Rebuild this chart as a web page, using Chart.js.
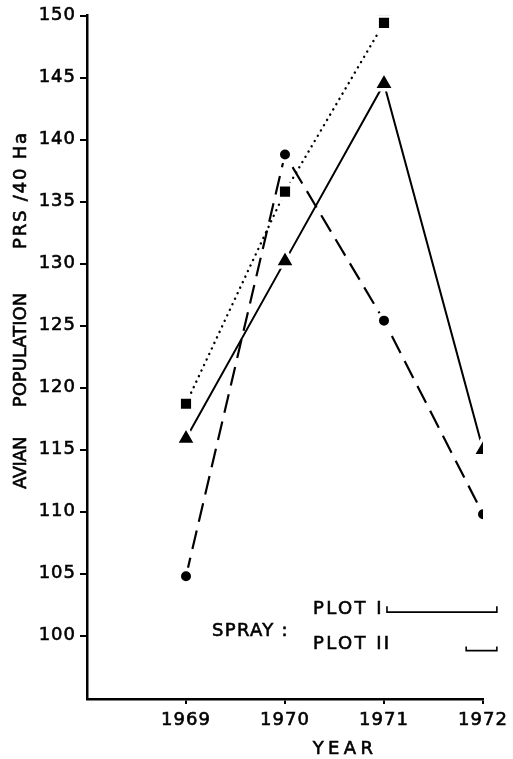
<!DOCTYPE html>
<html><head><meta charset="utf-8">
<script src="https://cdn.jsdelivr.net/npm/chart.js@4/dist/chart.umd.min.js"></script>
<style>html,body{margin:0;padding:0;background:#fff}canvas{display:block}</style>
</head><body>
<canvas id="c" width="513" height="759"></canvas>
<script>
// ---- data ----
const years = [1969, 1970, 1971, 1972];
const triangleSeries = [115.9, 130.2, 144.5, 115.0];   // solid line
const circleSeries = [104.8, 138.8, 125.4, 109.8];     // dashed line
const squareYears = [1969, 1970, 1971];
const squareSeries = [118.7, 135.8, 149.4];            // dotted line
const xTicks = [1969, 1970, 1971, 1972];
const yTicks = [100, 105, 110, 115, 120, 125, 130, 135, 140, 145, 150];
const yTitleParts = ['AVIAN', 'POPULATION', 'PRS /40 Ha'];
const xTitle = 'YEAR';
const sprayTitle = 'SPRAY :';
const sprayLabels = ['PLOT I', 'PLOT II'];
const sprayStart = [1971.03, 1971.83];
const sprayEnd = [1972.14, 1972.14];
const sprayLevel = [101.9, 98.8];

const FONT = '"DejaVu Sans", sans-serif';
const STROKE = 0.6;

const annotations = {
  id: 'annotations',
  beforeDraw(chart) { chart.ctx.letterSpacing = '1px'; },
  afterDraw(chart) {
    const ctx = chart.ctx, xs = chart.scales.x, ys = chart.scales.y;
    ctx.save();
    ctx.fillStyle = '#000'; ctx.strokeStyle = '#000';
    ctx.font = '18px ' + FONT;
    ctx.textBaseline = 'middle';
    const put = (t, x, y) => { ctx.lineWidth = STROKE; ctx.fillText(t, x, y); ctx.strokeText(t, x, y); };
    // y title (rotated, three parts)
    const partCenters = [463, 350, 190];
    const partSpacing = ['-0.5px', '0px', '1.8px'];
    yTitleParts.forEach((t, i) => {
      ctx.save();
      ctx.translate(21, partCenters[i]);
      ctx.rotate(-Math.PI / 2);
      ctx.letterSpacing = partSpacing[i];
      ctx.textAlign = 'center';
      put(t, 0, 0);
      ctx.restore();
    });
    // x title
    ctx.letterSpacing = '4.3px';
    ctx.textAlign = 'center';
    put(xTitle, 345, 749.5);
    // spray annotation
    ctx.textAlign = 'left';
    ctx.letterSpacing = '1.3px';
    put(sprayTitle, 212, 631);
    ctx.letterSpacing = '2.4px';
    const labelY = [609.5, 644.5];
    const tickH = [6, 4];
    sprayLabels.forEach((t, i) => {
      put(t, 313, labelY[i]);
      const x0 = xs.getPixelForValue(sprayStart[i]);
      const x1 = xs.getPixelForValue(sprayEnd[i]);
      const y = ys.getPixelForValue(sprayLevel[i]);
      ctx.lineWidth = 1.6;
      ctx.beginPath();
      ctx.moveTo(x0, y - tickH[i]); ctx.lineTo(x0, y); ctx.lineTo(x1, y); ctx.lineTo(x1, y - tickH[i]);
      ctx.stroke();
    });
    ctx.restore();
  }
};

const pts = (xsArr, ysArr) => xsArr.map((x, i) => ({ x: x, y: ysArr[i] }));

new Chart(document.getElementById('c'), {
  type: 'line',
  data: {
    datasets: [
      {
        label: 'triangles', data: pts(years, triangleSeries),
        borderColor: '#000', borderWidth: 2, fill: false, tension: 0,
        pointStyle: 'triangle', pointRadius: 12, pointBackgroundColor: '#000',
        pointBorderColor: '#fff', pointBorderWidth: 3.5, pointHoverRadius: 12
      },
      {
        label: 'circles', data: pts(years, circleSeries),
        borderColor: '#000', borderWidth: 2.2, borderDash: [19, 9], fill: false, tension: 0,
        pointStyle: 'circle', pointRadius: 7, pointBackgroundColor: '#000',
        pointBorderColor: '#fff', pointBorderWidth: 4, pointHoverRadius: 7
      },
      {
        label: 'squares', data: pts(squareYears, squareSeries),
        borderColor: '#000', borderWidth: 2.4, borderDash: [0.1, 6], borderCapStyle: 'round',
        fill: false, tension: 0,
        pointStyle: 'rect', pointRadius: 10, pointBackgroundColor: '#000',
        pointBorderColor: '#fff', pointBorderWidth: 4, pointHoverRadius: 10
      }
    ]
  },
  options: {
    responsive: false,
    animation: false,
    devicePixelRatio: 1,
    layout: { padding: { top: 15, right: 30, bottom: 0, left: 0 } },
    plugins: { legend: { display: false }, tooltip: { enabled: false }, title: { display: false } },
    scales: {
      x: {
        type: 'linear', min: 1968, max: 1972,
        afterBuildTicks: s => { s.ticks = xTicks.map(v => ({ value: v })); },
        afterFit: s => { s.height = 60; },
        grid: { display: true, drawOnChartArea: false, drawTicks: true, tickLength: 5, color: '#000', lineWidth: 2 },
        border: { display: true, color: '#000', width: 2.5 },
        ticks: { color: '#000', font: { family: FONT, size: 18 }, padding: 6, maxRotation: 0, autoSkip: false,
                 textStrokeColor: '#000', textStrokeWidth: STROKE, callback: v => String(v) },
        title: { display: false }
      },
      y: {
        type: 'linear', min: 94.9, max: 150,
        afterBuildTicks: s => { s.ticks = yTicks.map(v => ({ value: v })); },
        afterFit: s => { s.width = 87; },
        grid: { display: true, drawOnChartArea: false, drawTicks: true, tickLength: 7, color: '#000', lineWidth: 2 },
        border: { display: true, color: '#000', width: 2.5 },
        ticks: { color: '#000', font: { family: FONT, size: 18 }, padding: 4, autoSkip: false,
                 textStrokeColor: '#000', textStrokeWidth: STROKE, callback: v => String(v) },
        title: { display: false }
      }
    }
  },
  plugins: [annotations]
});
</script>
</body></html>
